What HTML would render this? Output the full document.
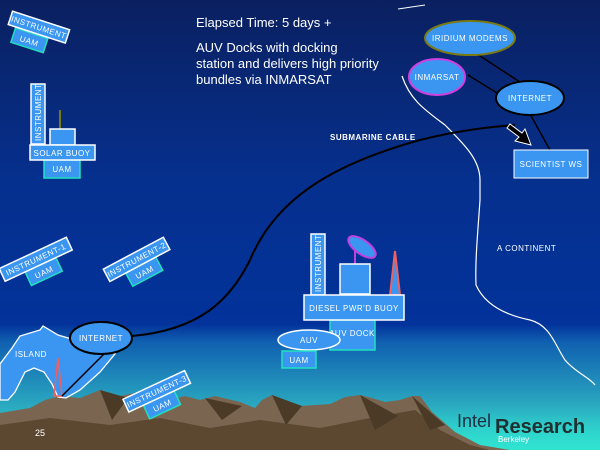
<!DOCTYPE html>
<html><head><meta charset="utf-8"><style>
html,body{margin:0;padding:0;width:600px;height:450px;overflow:hidden;background:#002a88}
svg{display:block}
text{font-family:"Liberation Sans",sans-serif;fill:#fff}
.s{font-size:8px;letter-spacing:0.5px}
</style></head><body>
<svg width="600" height="450" viewBox="0 0 600 450" xmlns="http://www.w3.org/2000/svg">
<defs>
<linearGradient id="bg" x1="0" y1="0" x2="0" y2="1">
<stop offset="0" stop-color="#0a2060"/>
<stop offset="0.4" stop-color="#06308e"/>
<stop offset="0.72" stop-color="#02329a"/>
<stop offset="0.76" stop-color="#1060b0"/>
<stop offset="0.9" stop-color="#2aa8c0"/>
<stop offset="1" stop-color="#30d8d0"/>
</linearGradient>
<linearGradient id="tl" x1="0" y1="0" x2="0" y2="1">
<stop offset="0" stop-color="#30e8d0" stop-opacity="0"/>
<stop offset="1" stop-color="#30e8d0" stop-opacity="0.7"/>
</linearGradient>
</defs>
<rect width="600" height="450" fill="url(#bg)"/>
<rect x="420" y="405" width="180" height="45" fill="url(#tl)"/>

<!-- coastline -->
<path d="M398,9 L425,5" stroke="#fff" stroke-width="1" fill="none"/>
<path d="M402,76 C410,100 425,110 445,125 C465,145 480,160 480,180 L480,200 C478,230 475,260 476,285 C485,305 505,315 530,320 C550,325 555,345 565,360 C575,372 590,378 595,385" stroke="#fff" stroke-width="1.2" fill="none"/>

<!-- mountains -->
<path d="M0,413 L30,408 L45,400 L60,396 L80,398 L100,390 L120,396 L140,392 L170,400 L185,396 L200,400 L215,396 L240,402 L255,408 L262,400 L272,395 L285,400 L300,406 L330,404 L345,397 L360,395 L372,398 L385,402 L400,400 L412,396 L420,396 L432,412 L455,432 L480,445 L510,450 L0,450 Z" fill="#7a6650"/>
<path d="M0,425 L50,418 L110,425 L160,418 L210,428 L260,420 L320,428 L370,418 L415,410 L440,430 L470,445 L490,450 L0,450 Z" fill="#5c4830"/>
<path d="M100,390 L112,420 L128,398 Z M205,398 L222,420 L242,406 Z M272,395 L286,425 L302,406 Z M360,395 L375,430 L398,416 Z M412,396 L430,430 L445,425 Z" fill="#4a3a26"/>

<!-- island -->
<path d="M0,364 L12,348 L20,336 L40,330 L43,326 L58,335 L75,340 L95,348 L115,354 L100,372 L80,390 L66,398 L58,397 L52,384 L44,372 L34,368 L25,372 L15,392 L8,400 L0,400 Z" fill="#3a96f0" stroke="#fff" stroke-width="1.3"/>
<text x="15" y="357" class="s" font-size="7">ISLAND</text>
<path d="M58,358 L54,396 L62,396 Z" fill="none" stroke="#f06060" stroke-width="1.5"/>
<line x1="104" y1="354" x2="62" y2="396" stroke="#000" stroke-width="1.5"/>

<!-- cable -->
<path d="M132,336 C200,330 230,300 250,260 C275,200 330,165 420,140 C460,130 490,127 515,125" stroke="#000" stroke-width="2" fill="none"/>
<text x="330" y="140" class="s" font-size="7" font-weight="bold">SUBMARINE CABLE</text>

<ellipse cx="101" cy="338" rx="31" ry="16" fill="#3a96f0" stroke="#000" stroke-width="2"/>
<text x="101" y="341" class="s" text-anchor="middle">INTERNET</text>

<!-- top-right network -->
<line x1="477" y1="54" x2="520" y2="82" stroke="#000" stroke-width="1.5"/>
<line x1="468" y1="75" x2="497" y2="93" stroke="#000" stroke-width="1.5"/>
<line x1="530" y1="114" x2="550" y2="150" stroke="#000" stroke-width="1.5"/>
<ellipse cx="470" cy="38" rx="45" ry="17" fill="#3a96f0" stroke="#7a7a10" stroke-width="2"/>
<text x="470" y="41" class="s" text-anchor="middle">IRIDIUM MODEMS</text>
<ellipse cx="437" cy="77" rx="28" ry="18" fill="#3a96f0" stroke="#d040e0" stroke-width="2"/>
<text x="437" y="80" class="s" text-anchor="middle">INMARSAT</text>
<ellipse cx="530" cy="98" rx="34" ry="17" fill="#3a96f0" stroke="#000" stroke-width="2"/>
<text x="530" y="101" class="s" text-anchor="middle">INTERNET</text>
<rect x="514" y="150" width="74" height="28" fill="#3a96f0" stroke="#fff" stroke-width="1"/>
<text x="551" y="167" class="s" text-anchor="middle">SCIENTIST WS</text>
<path d="M510,124 L522,133 L525,129 L531,145 L515,141 L519,137 L507,128 Z" fill="#000" stroke="#fff" stroke-width="1"/>
<text x="497" y="251" class="s" font-size="7">A CONTINENT</text>

<!-- headline text -->
<text x="196" y="27" font-size="13">Elapsed Time:  5 days +</text>
<text x="196" y="52" font-size="13">AUV Docks with docking</text>
<text x="196" y="68" font-size="13">station and delivers high priority</text>
<text x="196" y="84" font-size="13">bundles via INMARSAT</text>

<!-- top-left instrument -->
<g transform="rotate(18 38 30)">
<rect x="16" y="35" width="34" height="15" fill="#3a96f0" stroke="#20e0c0" stroke-width="1.5"/>
<text x="33" y="46" class="s" text-anchor="middle">UAM</text>
<rect x="8" y="20" width="60" height="14" fill="#3a96f0" stroke="#fff" stroke-width="1.5"/>
<text x="38" y="30" class="s" text-anchor="middle" font-size="7">INSTRUMENT</text>
</g>

<!-- solar buoy -->
<rect x="44" y="160" width="36" height="18" fill="#3a96f0" stroke="#20e0c0" stroke-width="1.5"/>
<text x="62" y="172" class="s" text-anchor="middle">UAM</text>
<line x1="60" y1="110" x2="60" y2="130" stroke="#7a7a10" stroke-width="2"/>
<rect x="50" y="129" width="25" height="16" fill="#3a96f0" stroke="#fff" stroke-width="1.5"/>
<rect x="31" y="84" width="14" height="60" fill="#3a96f0" stroke="#fff" stroke-width="1.5"/>
<text transform="translate(41,141) rotate(-90)" class="s" font-size="7">INSTRUMENT</text>
<rect x="30" y="145" width="65" height="15" fill="#3a96f0" stroke="#fff" stroke-width="1.5"/>
<text x="62" y="156" class="s" text-anchor="middle">SOLAR BUOY</text>

<!-- instrument 1 -->
<g transform="rotate(-25 37 262)">
<rect x="22" y="266" width="34" height="15" fill="#3a96f0" stroke="#20e0c0" stroke-width="1.5"/>
<text x="39" y="277" class="s" text-anchor="middle">UAM</text>
<rect x="0" y="252" width="74" height="14" fill="#3a96f0" stroke="#fff" stroke-width="1.5"/>
<text x="37" y="262" class="s" text-anchor="middle" font-size="7">INSTRUMENT-1</text>
</g>
<!-- instrument 2 -->
<g transform="rotate(-28 138 262)">
<rect x="122" y="266" width="34" height="15" fill="#3a96f0" stroke="#20e0c0" stroke-width="1.5"/>
<text x="139" y="277" class="s" text-anchor="middle">UAM</text>
<rect x="104" y="252" width="68" height="14" fill="#3a96f0" stroke="#fff" stroke-width="1.5"/>
<text x="138" y="262" class="s" text-anchor="middle" font-size="7">INSTRUMENT-2</text>
</g>
<!-- instrument 3 -->
<g transform="rotate(-25 158 394)">
<rect x="140" y="398" width="34" height="15" fill="#3a96f0" stroke="#20e0c0" stroke-width="1.5"/>
<text x="157" y="409" class="s" text-anchor="middle">UAM</text>
<rect x="124" y="384" width="68" height="14" fill="#3a96f0" stroke="#fff" stroke-width="1.5"/>
<text x="158" y="394" class="s" text-anchor="middle" font-size="7">INSTRUMENT-3</text>
</g>

<!-- diesel buoy -->
<rect x="311" y="234" width="14" height="61" fill="#3a96f0" stroke="#fff" stroke-width="1.5"/>
<text transform="translate(321,292) rotate(-90)" class="s" font-size="7">INSTRUMENT</text>
<line x1="355" y1="250" x2="355" y2="264" stroke="#c040e0" stroke-width="2"/>
<ellipse cx="362" cy="247" rx="16" ry="7" transform="rotate(35 362 247)" fill="#3a96f0" stroke="#c040e0" stroke-width="2"/>
<rect x="340" y="264" width="30" height="30" fill="#3a96f0" stroke="#fff" stroke-width="1.5"/>
<path d="M395,251 L390,295 L400,295 Z" fill="#3a96f0" stroke="#f06060" stroke-width="2"/>
<rect x="330" y="320" width="45" height="30" fill="#3a96f0" stroke="#20e0c0" stroke-width="1.5"/>
<text x="352" y="336" class="s" text-anchor="middle">AUV DOCK</text>
<rect x="304" y="295" width="100" height="25" fill="#3a96f0" stroke="#fff" stroke-width="1.5"/>
<text x="354" y="311" class="s" text-anchor="middle">DIESEL PWR'D BUOY</text>
<ellipse cx="309" cy="340" rx="31" ry="10" fill="#3a96f0" stroke="#fff" stroke-width="1.5"/>
<text x="309" y="343" class="s" text-anchor="middle">AUV</text>
<rect x="282" y="351" width="34" height="17" fill="#3a96f0" stroke="#20e0c0" stroke-width="1.5"/>
<text x="299" y="363" class="s" text-anchor="middle">UAM</text>

<!-- footer -->
<text x="35" y="436" font-size="9">25</text>
<text x="457" y="427" font-size="18" style="fill:#203040">Intel</text>
<text x="495" y="433" font-size="20" font-weight="bold" style="fill:#203030">Research</text>
<text x="498" y="442" font-size="8">Berkeley</text>
</svg>
</body></html>
